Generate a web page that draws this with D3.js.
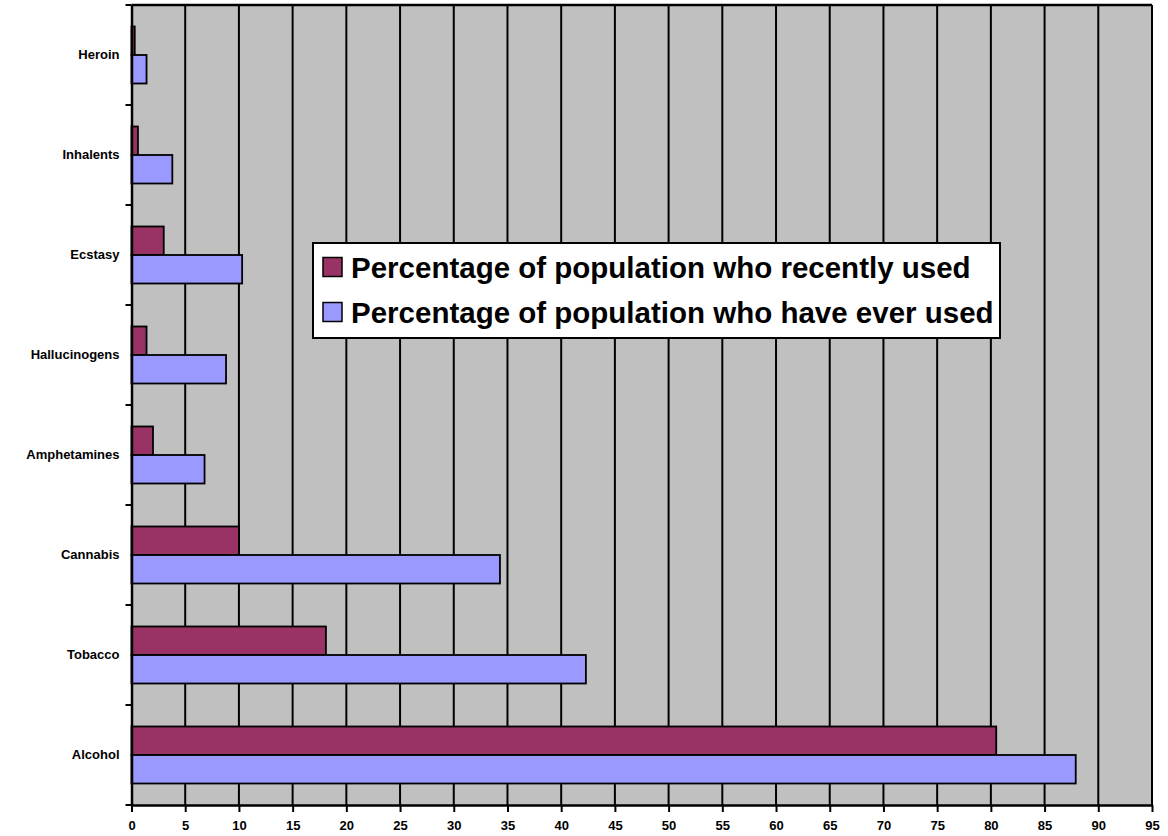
<!DOCTYPE html>
<html>
<head>
<meta charset="utf-8">
<script src="https://cdn.jsdelivr.net/npm/d3@7"></script>
<style>
  body { margin: 0; background: #fff; }
  .chart text { font-family: Arial, "Liberation Sans", sans-serif; font-weight: bold; }
</style>
</head>
<body>
<div class="chart"></div>
<script>
var categories = ["Heroin", "Inhalents", "Ecstasy", "Hallucinogens", "Amphetamines", "Cannabis", "Tobacco", "Alcohol"];
var recentlyUsed = [0.3, 0.6, 3.0, 1.4, 2.0, 10.0, 18.1, 80.5];
var everUsed = [1.4, 3.8, 10.3, 8.8, 6.8, 34.3, 42.3, 87.9];
var seriesNames = ["Percentage of population who recently used", "Percentage of population who have ever used"];
var seriesColors = ["#993366", "#9999FF"];
var xTicks = d3.range(0, 100, 5);

var margin = ({top: 5, right: 16, bottom: 31, left: 131.5});
var width = 1168 - margin.left - margin.right,
    height = 836 - margin.top - margin.bottom;

var svg = d3.select(".chart").append("svg")
    .attr("width", 1168)
    .attr("height", 836)
    .append("g")
    .attr("transform", "translate(" + margin.left + "," + margin.top + ")");

const xScale = d3.scaleLinear().domain([0, 95]).range([0, width]);
const yScale = d3.scaleBand().domain(categories).range([0, height]).paddingInner(0.43).paddingOuter(0.215);
const yBand = d3.scaleBand().domain(categories).range([0, height]);
const inner = d3.scaleBand().domain([0, 1]).range([0, yScale.bandwidth()]);

// plot background
svg.append("rect")
    .attr("width", width).attr("height", height)
    .attr("fill", "#C0C0C0");

// vertical gridlines
svg.append("g").selectAll("line")
    .data(xTicks.slice(1))
    .join("line")
    .attr("x1", d => xScale(d)).attr("x2", d => xScale(d))
    .attr("y1", 0).attr("y2", height)
    .attr("stroke", "#000").attr("stroke-width", 2);

svg.append("line")
    .attr("x1", 0).attr("x2", width).attr("y1", 0).attr("y2", 0)
    .attr("stroke", "#000").attr("stroke-width", 2.5);

// bars
var rows = categories.map((c, i) => ({cat: c, vals: [recentlyUsed[i], everUsed[i]]}));
var groups = svg.append("g").selectAll("g")
    .data(rows)
    .join("g")
    .attr("transform", d => `translate(0, ${yScale(d.cat)})`);

groups.selectAll("rect")
    .data(d => d.vals.map((v, k) => ({v: v, k: k})))
    .join("rect")
    .attr("x", 0)
    .attr("y", d => inner(d.k))
    .attr("width", d => xScale(d.v))
    .attr("height", inner.bandwidth())
    .attr("fill", d => seriesColors[d.k])
    .attr("stroke", "#000")
    .attr("stroke-width", 1.8);

// x axis
const xAxis = d3.axisBottom(xScale).tickValues(xTicks).tickSize(7).tickSizeOuter(0).tickPadding(9);
svg.append("g")
    .attr("class", "axis x-axis")
    .attr("transform", `translate(0, ${height})`)
    .call(xAxis)
    .call(g => g.select(".domain").attr("stroke-width", 2.5))
    .call(g => g.selectAll(".tick line").attr("stroke-width", 2))
    .call(g => g.selectAll("text").attr("font-size", 13).attr("fill", "#000").style("font-family", "Arial, 'Liberation Sans', sans-serif"));

// y axis
const yAxis = d3.axisLeft(yBand).tickSize(0).tickPadding(12);
var yg = svg.append("g")
    .attr("class", "axis y-axis")
    .call(yAxis)
    .call(g => g.select(".domain").attr("stroke-width", 2.5))
    .call(g => g.selectAll("text").attr("font-size", 13).attr("fill", "#000").style("font-family", "Arial, 'Liberation Sans', sans-serif"));

yg.selectAll(".sep")
    .data(d3.range(categories.length + 1))
    .join("line")
    .attr("x1", -6).attr("x2", 0)
    .attr("y1", i => i * yBand.step()).attr("y2", i => i * yBand.step())
    .attr("stroke", "#000").attr("stroke-width", 2);

// legend
var legend = svg.append("g")
    .attr("transform", `translate(${313 - margin.left}, ${243 - margin.top})`);

legend.append("rect")
    .attr("width", 687).attr("height", 95)
    .attr("fill", "#fff").attr("stroke", "#000").attr("stroke-width", 2);

var items = legend.selectAll(".item")
    .data(seriesNames)
    .join("g")
    .attr("class", "item")
    .attr("transform", (d, i) => `translate(10, ${24 + i * 45})`);

items.append("rect")
    .attr("x", 0).attr("y", -9.5)
    .attr("width", 19).attr("height", 19)
    .attr("fill", (d, i) => seriesColors[i])
    .attr("stroke", "#000").attr("stroke-width", 1.5);

items.append("text")
    .attr("x", 28).attr("y", 0)
    .attr("dy", "0.36em")
    .attr("font-size", 29.5)
    .text(d => d);
</script>
</body>
</html>
